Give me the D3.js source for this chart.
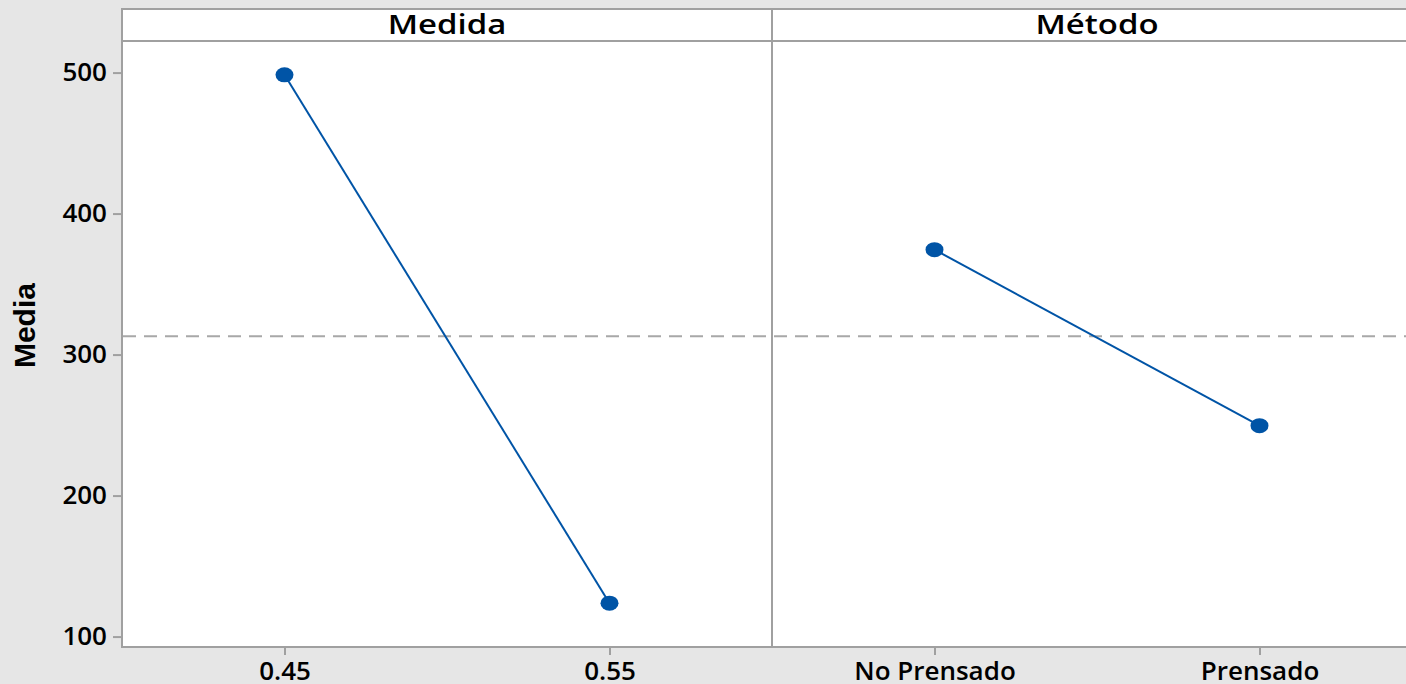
<!DOCTYPE html>
<html>
<head>
<meta charset="utf-8">
<script src="https://cdn.jsdelivr.net/npm/d3@7"></script>
<style>
  html, body { margin: 0; padding: 0; background: #e6e6e6; }
  svg { display: block; }
  .tick text { font-family: "Open Sans", sans-serif; font-weight: 600; fill: #000; }
</style>
</head>
<body>
<svg id="chart" width="1406" height="684"></svg>
<script>
// Main effects plot for Media: one panel per factor
const panels = ["Medida", "Método"];
const medidaLevels = ["0.45", "0.55"];
const medidaMeans = [498.4, 123.7];
const metodoLevels = ["No Prensado", "Prensado"];
const metodoMeans = [374.4, 249.6];
const grandMean = 313.0;
const yTicks = [100, 200, 300, 400, 500];
const yLabel = "Media";

const factorData = [
  { name: panels[0], levels: medidaLevels, means: medidaMeans },
  { name: panels[1], levels: metodoLevels, means: metodoMeans }
];

const svg = d3.select("#chart");
const W = 1406, H = 684;

// Plot frame geometry
const plotLeft = 122, plotTop = 9, headerBottom = 41, plotBottom = 647;
const panelW = 650;
const frameRight = plotLeft + panelW * factorData.length;

const frameColor = "#a0a0a0";
const blue = "#0054a6";

svg.append("rect").attr("width", W).attr("height", H).attr("fill", "#e6e6e6");

// White plot area
svg.append("rect")
  .attr("x", plotLeft).attr("y", plotTop)
  .attr("width", frameRight - plotLeft).attr("height", plotBottom - plotTop)
  .attr("fill", "#fff");

const y = d3.scaleLinear().domain([92.6, 522.4]).range([plotBottom, headerBottom]);

// Reference line at the grand mean
svg.append("line")
  .attr("x1", plotLeft + 1).attr("x2", frameRight)
  .attr("y1", y(grandMean)).attr("y2", y(grandMean))
  .attr("stroke", "#a8a8a8").attr("stroke-width", 2)
  .attr("stroke-dasharray", "13,8");

factorData.forEach((f, i) => {
  const x0 = plotLeft + i * panelW;
  const x = d3.scalePoint().domain(f.levels).range([x0, x0 + panelW]).padding(0.5);
  const pts = f.levels.map((l, k) => ({ level: l, mean: f.means[k] }));

  const g = svg.append("g");

  g.append("path")
    .datum(pts)
    .attr("fill", "none")
    .attr("stroke", blue)
    .attr("stroke-width", 2)
    .attr("d", d3.line().x(d => x(d.level)).y(d => y(d.mean)));

  g.selectAll("ellipse")
    .data(pts)
    .join("ellipse")
    .attr("cx", d => x(d.level))
    .attr("cy", d => y(d.mean))
    .attr("rx", 9).attr("ry", 7.5)
    .attr("fill", blue);

  // Bottom axis for this factor
  const ax = svg.append("g")
    .attr("transform", `translate(0,${plotBottom})`)
    .call(d3.axisBottom(x).tickSize(8).tickPadding(7));
  ax.select(".domain").remove();
  ax.selectAll(".tick line").attr("stroke", frameColor).attr("stroke-width", 2);
  ax.selectAll(".tick text").attr("font-size", 26).attr("dy", "0.71em");

  // Panel header (slightly widened lettering)
  svg.append("text")
    .attr("transform", `translate(${x0 + panelW / 2},34) scale(1.22,1)`)
    .attr("text-anchor", "middle")
    .attr("font-family", "Open Sans, sans-serif")
    .attr("font-weight", 600)
    .attr("font-size", 27)
    .attr("fill", "#000")
    .text(f.name);
});

// Frame, header rule and panel divider
const frame = svg.append("g").attr("stroke", frameColor).attr("stroke-width", 2).attr("fill", "none");
frame.append("rect")
  .attr("x", plotLeft).attr("y", plotTop)
  .attr("width", frameRight - plotLeft).attr("height", plotBottom - plotTop);
frame.append("line")
  .attr("x1", plotLeft).attr("x2", frameRight)
  .attr("y1", headerBottom).attr("y2", headerBottom);
for (let i = 1; i < factorData.length; i++) {
  frame.append("line")
    .attr("x1", plotLeft + i * panelW).attr("x2", plotLeft + i * panelW)
    .attr("y1", plotTop).attr("y2", plotBottom);
}

// Left axis
const ay = svg.append("g")
  .attr("transform", `translate(${plotLeft - 1},0)`)
  .call(d3.axisLeft(y).tickValues(yTicks).tickFormat(d3.format("d")).tickSize(8).tickPadding(6));
ay.select(".domain").remove();
ay.selectAll(".tick line").attr("stroke", frameColor).attr("stroke-width", 2);
ay.selectAll(".tick text").attr("font-size", 26);

// Axis title
svg.append("text")
  .attr("transform", `translate(35,${(y(yTicks[0]) + y(yTicks[4])) / 2 - 29}) rotate(-90)`)
  .attr("text-anchor", "middle")
  .attr("font-family", "Liberation Sans, Arial, sans-serif")
  .attr("font-weight", 700)
  .attr("font-size", 30)
  .attr("fill", "#000")
  .text(yLabel);
</script>
</body>
</html>
